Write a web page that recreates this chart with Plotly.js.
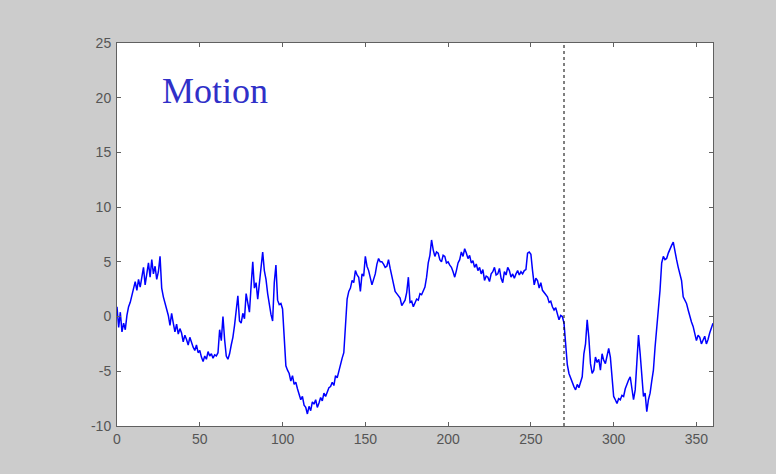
<!DOCTYPE html>
<html>
<head>
<meta charset="utf-8">
<script src="https://cdn.plot.ly/plotly-3.0.1.min.js"></script>
<style>
html,body{margin:0;padding:0;background:#cccccc;}
#chart{width:776px;height:474px;}
</style>
</head>
<body>
<div id="chart"></div>
<script>
// Sample index (0..360) and motion signal values
const motionValues = [
  0.9, -1.0, 0.4, -1.4, -0.6, -1.2, 0.1, 0.9, 1.3, 1.9,
  2.6, 3.2, 2.4, 3.4, 2.7, 3.6, 4.5, 2.9, 3.8, 4.9,
  3.6, 5.2, 3.9, 4.6, 3.4, 4.1, 5.5, 2.6, 1.8, 1.2,
  0.6, 0.1, -0.8, 0.3, -0.6, -1.4, -0.7, -1.6, -1.1, -1.5,
  -2.3, -1.7, -2.1, -2.6, -1.9, -2.4, -2.8, -3.1, -2.6, -3.3,
  -3.1, -3.7, -4.1, -3.6, -3.9, -3.2, -3.6, -3.4, -3.8, -3.5,
  -3.6, -3.3, -1.2, -2.2, 0.0, -2.1, -3.6, -3.9, -3.4, -2.6,
  -1.9, -0.8, 0.4, 1.9, -0.4, -0.6, 0.3, -0.2, 2.1, 1.0,
  0.4, 2.8, 5.0, 2.6, 3.1, 1.6, 2.9, 4.1, 5.9, 4.2,
  3.4, 2.1, 1.0, 0.2, -0.4, 3.1, 4.7, 1.5, 1.1, 1.2,
  0.7, -2.1, -4.5, -4.9, -5.2, -5.9, -5.4, -6.2, -6.0, -6.6,
  -7.2, -7.6, -7.3, -8.1, -8.3, -8.9, -8.2, -8.6, -7.8, -8.0,
  -7.6, -8.3, -7.9, -7.4, -7.7, -7.0, -7.3, -6.8, -6.5, -6.4,
  -6.0, -6.3, -5.4, -5.6, -4.9, -4.5, -3.8, -3.3, -0.5, 1.6,
  2.3, 2.6, 3.3, 3.1, 4.2, 3.8, 3.6, 2.3, 3.9, 3.7,
  5.5, 4.6, 4.2, 3.5, 2.9, 3.4, 3.9, 4.8, 5.3, 5.0,
  5.0, 4.8, 4.5, 4.6, 5.2, 4.4, 3.6, 2.9, 2.3, 2.1,
  1.9, 1.7, 1.0, 1.3, 1.5, 2.2, 3.6, 1.3, 1.4, 0.9,
  1.2, 1.6, 1.5, 2.1, 2.0, 2.4, 2.7, 3.6, 4.9, 5.6,
  7.0, 6.1, 5.5, 5.9, 5.8, 5.2, 5.0, 5.6, 5.5, 4.9,
  5.0, 4.7, 4.5, 4.1, 3.6, 4.2, 4.9, 5.2, 5.9, 5.5,
  6.2, 5.8, 5.3, 5.6, 4.9, 5.1, 4.5, 4.8, 4.2, 4.5,
  3.9, 4.3, 3.3, 3.7, 3.6, 3.2, 3.9, 4.1, 4.5, 3.8,
  3.9, 4.4, 3.5, 3.1, 4.1, 3.8, 4.5, 4.2, 3.6, 3.9,
  3.5, 3.9, 4.2, 3.8, 4.1, 3.9, 4.2, 4.3, 5.8, 5.9,
  5.7, 4.2, 2.9, 3.5, 3.3, 2.6, 3.1, 2.4, 2.2, 1.9,
  1.8, 1.3, 1.4, 0.9, 0.6, 0.8, 0.2, -0.3, 0.1, 0.0,
  -0.6, -3.0, -4.4, -5.2, -5.6, -6.1, -6.4, -6.7, -6.2, -6.5,
  -6.0, -5.5, -3.4, -2.5, -0.3, -1.9, -4.3, -5.2, -4.9, -3.7,
  -4.2, -3.9, -4.9, -3.4, -4.0, -4.3, -3.6, -2.9, -3.7, -5.8,
  -7.3, -7.6, -7.95, -7.5, -7.6, -7.2, -7.3, -6.6, -6.1, -5.8,
  -5.5, -6.4, -7.6, -6.7, -3.7, -1.7, -3.4, -5.8, -7.3, -7.0,
  -8.7, -7.6, -7.0, -5.9, -4.9, -2.8, -1.2, 0.6, 2.4, 4.9,
  5.5, 5.2, 5.3, 5.8, 6.2, 6.5, 6.8, 5.8, 5.2, 4.5,
  3.9, 3.3, 1.8, 1.5, 1.2, 0.6, 0.0, -0.5, -0.9, -1.6,
  -2.2, -1.7, -1.9, -2.5, -2.2, -1.8, -2.5, -2.1, -1.5, -1.0,
  -0.6
];
const sampleIndex = motionValues.map((_, i) => i);
const xTickValues = [0, 50, 100, 150, 200, 250, 300, 350];
const yTickValues = [-10, -5, 0, 5, 10, 15, 20, 25];
const markerPosition = 270;
const labelText = "Motion";
const labelPos = {x: 26, y: 20.6};

const axisCommon = {
  showgrid: false,
  zeroline: false,
  showline: true,
  linecolor: '#606060',
  linewidth: 1,
  mirror: 'allticks',
  ticks: 'inside',
  ticklen: 4,
  tickcolor: '#606060',
  tickfont: {family: 'Liberation Sans, Arial, sans-serif', size: 14, color: '#555555'}
};

const data = [{
  x: sampleIndex,
  y: motionValues,
  type: 'scatter',
  mode: 'lines',
  line: {color: '#0000ff', width: 1.5},
  hoverinfo: 'skip'
}];

const layout = {
  width: 776,
  height: 474,
  paper_bgcolor: '#cccccc',
  plot_bgcolor: '#ffffff',
  margin: {l: 117, r: 63, t: 43, b: 48},
  showlegend: false,
  xaxis: Object.assign({}, axisCommon, {
    range: [0, 360],
    tickvals: xTickValues,
    ticktext: xTickValues.map(String)
  }),
  yaxis: Object.assign({}, axisCommon, {
    range: [-10, 25],
    tickvals: yTickValues,
    ticktext: yTickValues.map(String),
    ticklabelstandoff: 2
  }),
  shapes: [{
    type: 'line',
    xref: 'x', yref: 'paper',
    x0: markerPosition, x1: markerPosition, y0: 0, y1: 1,
    line: {color: '#000000', width: 1, dash: 'dot'}
  }],
  annotations: [{
    text: labelText,
    xref: 'x', yref: 'y',
    x: labelPos.x, y: labelPos.y,
    xanchor: 'left', yanchor: 'middle',
    showarrow: false,
    font: {family: 'Liberation Serif, Times New Roman, serif', size: 36, color: '#3030c8'}
  }]
};

Plotly.newPlot('chart', data, layout, {displayModeBar: false, staticPlot: true});
</script>
</body>
</html>
